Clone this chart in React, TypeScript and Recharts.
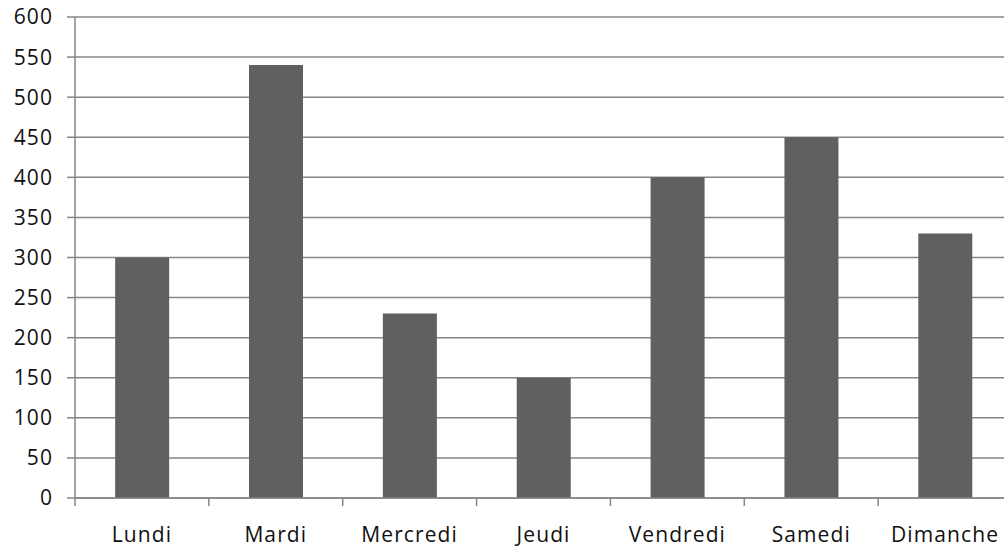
import React from 'react';
import { BarChart, Bar, XAxis, YAxis, CartesianGrid } from 'recharts';

const days = ['Lundi', 'Mardi', 'Mercredi', 'Jeudi', 'Vendredi', 'Samedi', 'Dimanche'];
const values = [300, 540, 230, 150, 400, 450, 330];
const yTicks = [0, 50, 100, 150, 200, 250, 300, 350, 400, 450, 500, 550, 600];
const boundaryTicks = [0, 1, 2, 3, 4, 5, 6, 7];

const data = days.map((day, i) => ({ day, value: values[i], pos: i + 0.5 }));

const font = '"Open Sans", sans-serif';
const gridColor = '#868686';
const textStyle = { fill: '#111', fontSize: 21, fontFamily: font, letterSpacing: 1.1 };

const App: React.FC = () => {
  return (
    <div style={{ position: 'absolute', left: 0, top: 0, width: 1004, height: 548, overflow: 'hidden', background: '#fff' }}>
      <BarChart
        width={1012}
        height={548}
        data={data}
        margin={{ top: 17, right: 0, left: 0, bottom: 20 }}
        barCategoryGap="30%"
      >
        <CartesianGrid vertical={false} stroke={gridColor} strokeWidth={1.5} />
        <XAxis
          xAxisId="a"
          type="number"
          dataKey="pos"
          domain={[0, 7]}
          ticks={boundaryTicks}
          tickFormatter={() => ''}
          tickSize={8}
          height={8}
          axisLine={{ stroke: gridColor, strokeWidth: 1.5 }}
          tickLine={{ stroke: gridColor, strokeWidth: 1.5 }}
        />
        <XAxis
          dataKey="day"
          xAxisId="b"
          axisLine={false}
          tickLine={false}
          tickSize={0}
          tickMargin={21}
          height={22}
          interval={0}
          tick={textStyle}
        />
        <YAxis
          domain={[0, 600]}
          ticks={yTicks}
          width={75}
          tickSize={8}
          tickMargin={14}
          interval={0}
          axisLine={{ stroke: gridColor, strokeWidth: 1.5 }}
          tickLine={{ stroke: gridColor, strokeWidth: 1.5 }}
          tick={textStyle}
        />
        <Bar dataKey="value" xAxisId="b" fill="#606060" isAnimationActive={false} />
      </BarChart>
    </div>
  );
};

export default App;
